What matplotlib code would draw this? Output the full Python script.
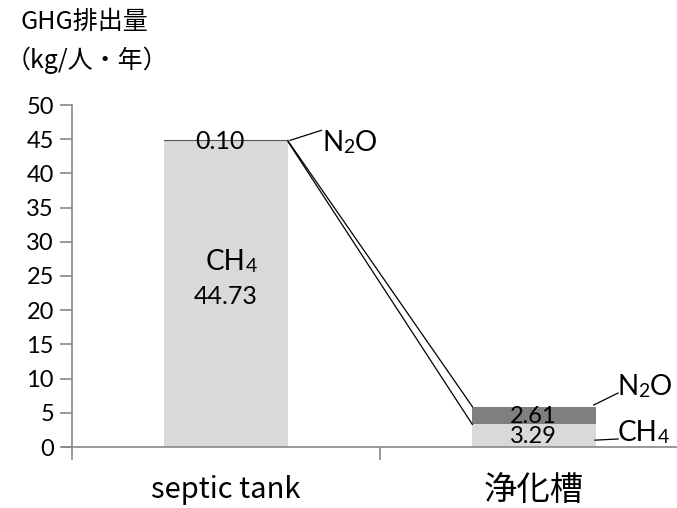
import matplotlib
matplotlib.use("Agg")
import matplotlib.pyplot as plt

plt.rcParams['font.family'] = ['Lato', 'Noto Sans CJK JP', 'DejaVu Sans']
JP = ['Noto Sans CJK JP', 'DejaVu Sans']

categories = ['septic tank', '浄化槽']
ch4 = [44.73, 3.29]
n2o = [0.10, 2.61]
ch4_colors = ['#d9d9d9', '#d9d9d9']
n2o_colors = ['#d9d9d9', '#7f7f7f']
yticks = list(range(0, 51, 5))

W, H = 677, 508
fig = plt.figure(figsize=(W / 100, H / 100), dpi=100)
ax = fig.add_axes([72 / W, 61 / H, 616 / W, 342 / H])

x = [0, 1]
bw = 0.4
ax.bar(x, ch4, width=bw, color=ch4_colors, zorder=2)
ax.bar(x, n2o, width=bw, bottom=ch4, color=n2o_colors, zorder=2)

# series lines between the stacks
tops = [c + n for c, n in zip(ch4, n2o)]
ax.plot([x[0] + bw / 2, x[1] - bw / 2], [tops[0], tops[1]], color='black', lw=0.9, zorder=3)
ax.plot([x[0] + bw / 2, x[1] - bw / 2], [ch4[0], ch4[1]], color='black', lw=0.9, zorder=3)
ax.plot([x[0] - bw / 2, x[0] + bw / 2], [tops[0], tops[0]], color='#555555', lw=0.8, zorder=3)


def chem(xp, yp, parts, size=20, sub=14):
    # parts: list of (text, is_subscript), placed one after another
    prev = ax.text(xp, yp, parts[0][0], ha='left', va='bottom', fontsize=size, zorder=4, clip_on=False)
    base = prev
    for txt, is_sub in parts[1:]:
        prev = ax.annotate(txt, xy=(1, 0), xycoords=(prev, base), ha='left', va='bottom',
                           fontsize=sub if is_sub else size, zorder=4, annotation_clip=False)


# value labels
ax.text(-0.02, 44.6, f'{n2o[0]:.2f}', ha='center', va='center', fontsize=18, zorder=4)
chem(-0.065, 25.2, [('CH', False), ('4', True)])
ax.text(0.0, 22.0, f'{ch4[0]:.2f}', ha='center', va='center', fontsize=18, zorder=4)
ax.text(0.997, ch4[1] + n2o[1] / 2 - 0.1, f'{n2o[1]:.2f}', ha='center', va='center', fontsize=17, zorder=4)
ax.text(0.997, 1.5, f'{ch4[1]:.2f}', ha='center', va='center', fontsize=17, zorder=4)

# leader lines and series names
ax.plot([0.208, 0.31], [tops[0], 46.3], color='black', lw=0.9, clip_on=False)
chem(0.312, 42.6, [('N', False), ('2', True), ('O', False)])
ax.plot([1.194, 1.273], [6.14, 7.89], color='black', lw=0.9, clip_on=False)
chem(1.27, 6.85, [('N', False), ('2', True), ('O', False)])
ax.plot([1.198, 1.273], [1.0, 1.17], color='black', lw=0.9, clip_on=False)
chem(1.273, 0.1, [('CH', False), ('4', True)])

ax.set_xlim(-0.5, 1.5)
ax.set_ylim(0, 50)
ax.set_yticks(yticks)
ax.set_xticks(x)
ax.set_xticklabels([])
ax.set_xticks([-0.5, 0.5, 1.5], minor=True)
ax.tick_params(axis='x', which='major', length=0)
ax.tick_params(axis='x', which='minor', length=9, width=1.2, color='#888888', direction='out')
ax.tick_params(axis='y', length=9, width=1.2, color='#888888', direction='out', labelsize=17, pad=4)
ax.text(x[0], -6.3, categories[0], ha='center', va='center', fontsize=21,
        family=JP, clip_on=False)
ax.text(x[1], -6.3, categories[1], ha='center', va='center', fontsize=24,
        family=JP, clip_on=False)

for s in ['top', 'right']:
    ax.spines[s].set_visible(False)
for s in ['left', 'bottom']:
    ax.spines[s].set_color('#888888')
    ax.spines[s].set_linewidth(1.2)
ax.spines['bottom'].set_bounds(-0.53, 1.5)

fig.text(20 / W, 1 - 22 / H, 'GHG排出量', ha='left', va='center', fontsize=18, family=JP)
fig.text(6 / W, 1 - 60 / H, '（kg/人・年）', ha='left', va='center', fontsize=18, family=JP)

fig.savefig('out.png', dpi=100)
